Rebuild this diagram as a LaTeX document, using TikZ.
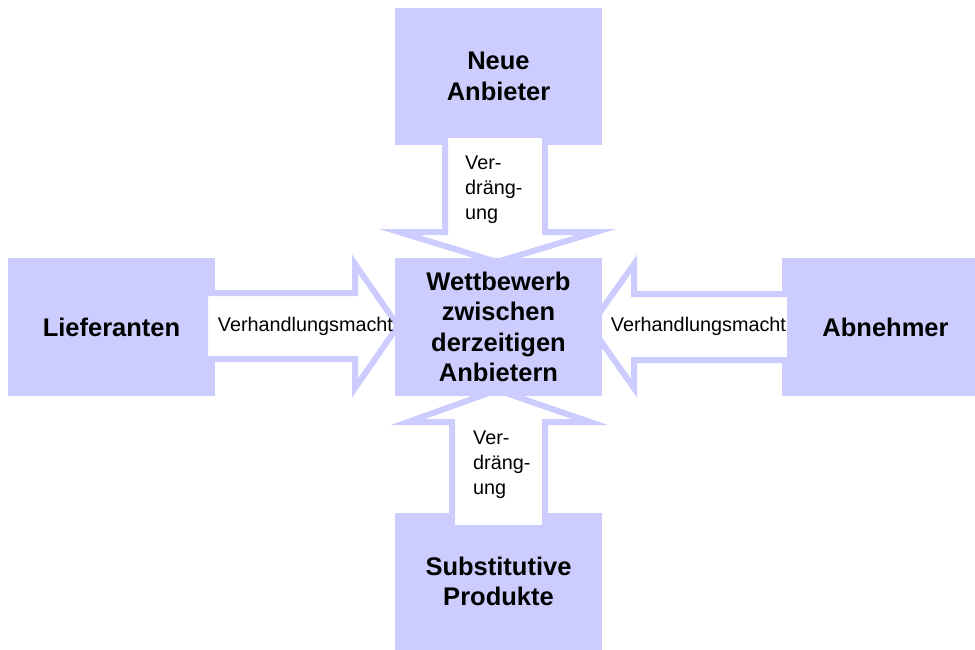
\documentclass[tikz,border=0pt]{standalone}
\usepackage{fontspec}
\setmainfont{Liberation Sans}
\definecolor{lav}{RGB}{204,204,255}
\begin{document}
\begin{tikzpicture}[x=1pt,y=-1pt,
  box/.style={fill=lav, minimum width=207pt, minimum height=137pt, inner sep=0pt,
    align=center, font=\fontsize{25.5}{30.5}\selectfont\bfseries},
  blockarrow/.style={fill=white, draw=lav, line width=6pt, line join=miter},
  lbl/.style={inner sep=0pt, font=\fontsize{19.8}{25}\selectfont}]
\useasboundingbox (0,0) rectangle (975,650);
\clip (0,0) rectangle (975,650);

% outer forces
\node[box] (neu) at (498.5,76.5) {Neue\\Anbieter};
\node[box, minimum height=138pt] (lief) at (111.5,327) {Lieferanten};
\node[box, minimum height=138pt] (abn) at (885.5,327) {Abnehmer};
\node[box] (subst) at (498.5,581.5) {Substitutive\\Produkte};

% block arrows pointing to the centre
\draw[blockarrow] (445,135) -- (445,232) -- (399,232) -- (497,262) -- (596,232)
  -- (545,232) -- (545,135) -- cycle;
\draw[blockarrow] (205,293) -- (355,293) -- (355,264) -- (398,326) -- (355,388)
  -- (355,359) -- (205,359) -- cycle;
\draw[blockarrow] (790,294) -- (634,294) -- (634,264) -- (590,326) -- (634,388)
  -- (634,360) -- (790,360) -- cycle;
\draw[blockarrow] (452,528) -- (452,422) -- (408,422) -- (497,390) -- (590,422)
  -- (545,422) -- (545,528) -- cycle;

% centre
\node[box, minimum height=138pt] (wett) at (498.5,327)
  {Wettbewerb\\zwischen\\derzeitigen\\Anbietern};

% arrow labels
\node[lbl, align=left, anchor=west] (vtop) at (465,190) {Ver-\\dräng-\\ung};
\node[lbl, align=left, anchor=west] (vbot) at (473,465) {Ver-\\dräng-\\ung};
\node[lbl] (vleft) at (305.5,326) {Verhandlungsmacht};
\node[lbl] (vright) at (698.5,326) {Verhandlungsmacht};
\end{tikzpicture}
\end{document}
